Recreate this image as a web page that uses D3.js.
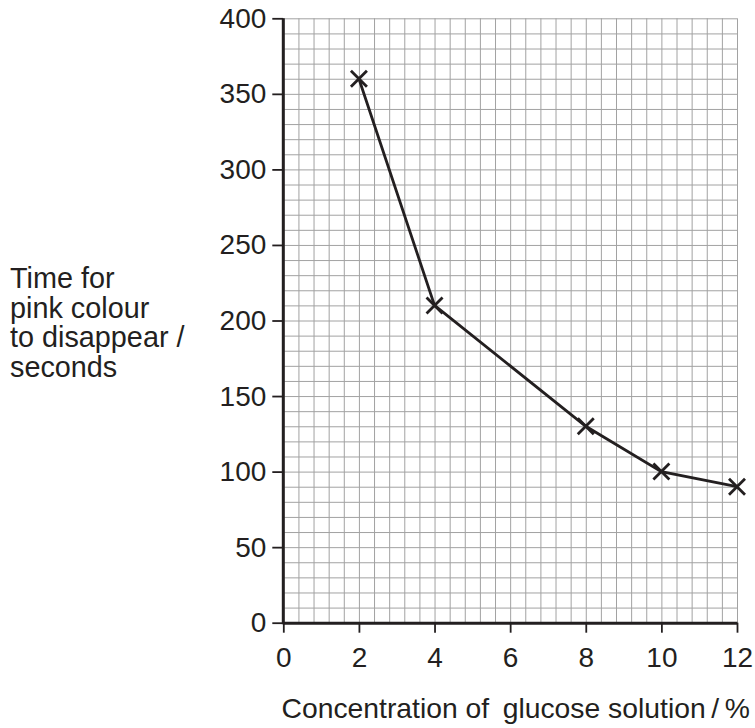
<!DOCTYPE html>
<html>
<head>
<meta charset="utf-8">
<script src="https://cdn.jsdelivr.net/npm/d3@7"></script>
<style>
  body { margin: 0; background: #fff; }
  text { font-family: "Liberation Sans", Arial, sans-serif; fill: #231f20; }
</style>
</head>
<body>
<div id="chart-container"></div>
<script>
var concentration = [2, 4, 8, 10, 12];
var time = [360, 210, 130, 100, 90];
var xTicks = [0, 2, 4, 6, 8, 10, 12];
var yTicks = [0, 50, 100, 150, 200, 250, 300, 350, 400];
var yLabelLines = ["Time for", "pink colour", "to disappear /", "seconds"];
var xLabel = "Concentration of\u2009 glucose solution\u2009/\u2009%";

var W = 755, H = 728;
var marginLeft = 283.3, marginTop = 18.3;
var width = 453.7, height = 604.4;
var ink = "#231f20";

var x = d3.scaleLinear().domain([0, 12]).range([0, width]);
var y = d3.scaleLinear().domain([0, 400]).range([height, 0]);

var svg = d3.select("#chart-container")
    .append("svg")
    .attr("width", W)
    .attr("height", H);

var g = svg.append("g")
    .attr("transform", "translate(" + marginLeft + "," + marginTop + ")");

// grid, 0.4 units across and 10 units up
var xGrid = d3.range(0, 31).map(function(i) { return i * 0.4; });
var yGrid = d3.range(0, 41).map(function(i) { return i * 10; });

g.append("g")
    .attr("transform", "translate(0," + height + ")")
    .call(d3.axisBottom(x).tickValues(xGrid).tickSize(-height).tickFormat(""))
    .call(function(s) {
      s.select(".domain").remove();
      s.selectAll("line").attr("stroke", "#a2a2a2").attr("stroke-width", 1);
    });

g.append("g")
    .call(d3.axisLeft(y).tickValues(yGrid).tickSize(-width).tickFormat(""))
    .call(function(s) {
      s.select(".domain").remove();
      s.selectAll("line").attr("stroke", "#a2a2a2").attr("stroke-width", 1);
    });

// axes
var xAxis = g.append("g")
    .attr("transform", "translate(0," + height + ")")
    .call(d3.axisBottom(x).tickValues(xTicks).tickSize(10).tickSizeOuter(0).tickPadding(14));

var yAxis = g.append("g")
    .call(d3.axisLeft(y).tickValues(yTicks).tickSize(11).tickSizeOuter(0).tickPadding(6));

[xAxis, yAxis].forEach(function(a) {
  a.attr("font-size", 28).attr("font-family", "Liberation Sans, Arial, sans-serif");
  a.select(".domain").attr("stroke", ink).attr("stroke-width", 3);
  a.selectAll(".tick line").attr("stroke", ink).attr("stroke-width", 1.8);
  a.selectAll(".tick text").attr("fill", ink);
});
yAxis.select(".domain").attr("d", "M0," + (height + 1.5) + "V0");

// data line
var pts = concentration.map(function(c, i) { return [c, time[i]]; });

g.append("path")
    .datum(pts)
    .attr("fill", "none")
    .attr("stroke", ink)
    .attr("stroke-width", 2.8)
    .attr("d", d3.line()
      .x(function(d) { return x(d[0]); })
      .y(function(d) { return y(d[1]); }));

var s = 8;
g.selectAll(".cross")
    .data(pts)
    .enter().append("path")
    .attr("class", "cross")
    .attr("stroke", ink)
    .attr("stroke-width", 2.8)
    .attr("d", function(d) {
      var cx = x(d[0]), cy = y(d[1]);
      return "M" + (cx - s) + "," + (cy - s) + "L" + (cx + s) + "," + (cy + s) +
             "M" + (cx - s) + "," + (cy + s) + "L" + (cx + s) + "," + (cy - s);
    });

// axis titles
svg.append("text")
    .attr("x", 10)
    .attr("y", 288)
    .attr("font-size", 28.8)
    .selectAll("tspan")
    .data(yLabelLines)
    .enter().append("tspan")
    .attr("x", 10)
    .attr("dy", function(d, i) { return i === 0 ? 0 : 29.7; })
    .text(function(d) { return d; });

svg.append("text")
    .attr("x", 750)
    .attr("y", 718)
    .attr("text-anchor", "end")
    .attr("font-size", 28.3)
    .text(xLabel);
</script>
</body>
</html>
